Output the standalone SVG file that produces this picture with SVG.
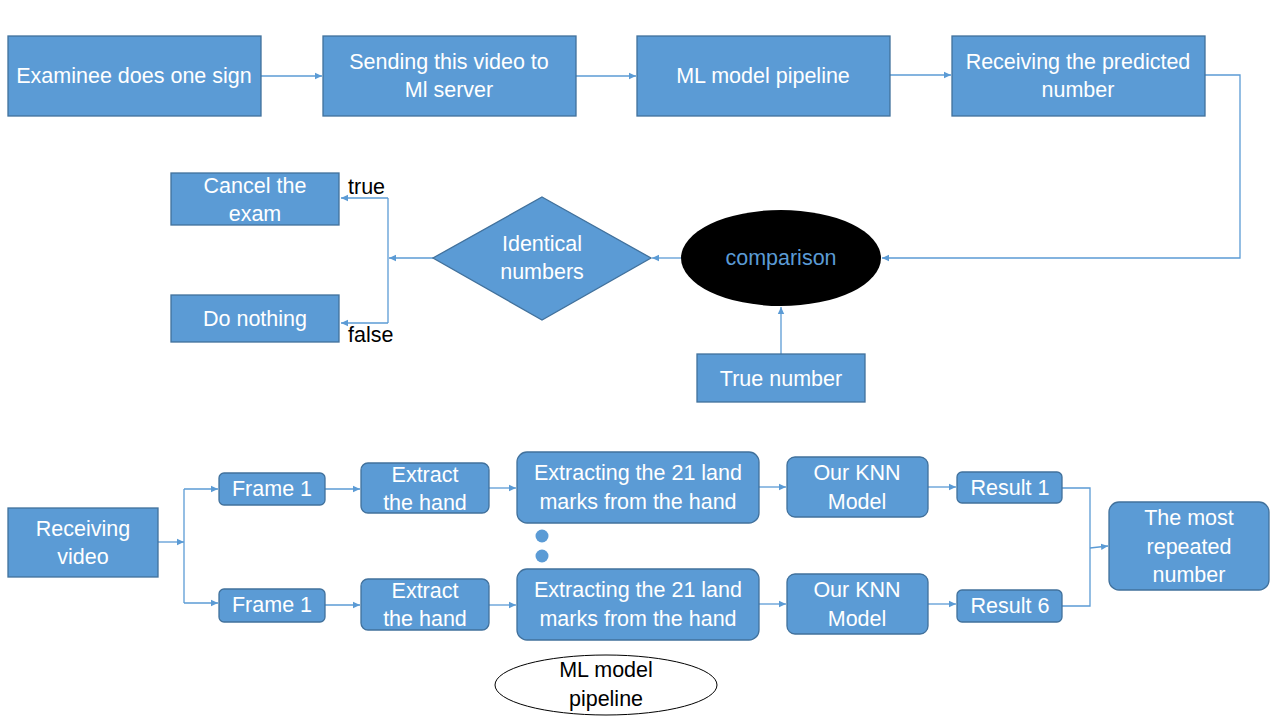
<svg xmlns="http://www.w3.org/2000/svg" width="1280" height="720" viewBox="0 0 1280 720">
<defs>
<marker id="ah" markerWidth="8" markerHeight="8" refX="7" refY="4" orient="auto" markerUnits="userSpaceOnUse"><path d="M0,0.8 L7,4 L0,7.2 Z" fill="#5b9bd5"/></marker>
<style>
.b{fill:#5b9bd5;stroke:#41719c;stroke-width:1.3}
.t{font-family:"Liberation Sans",Arial,sans-serif;font-size:21.5px;fill:#fff;text-anchor:middle;dominant-baseline:central}
.k{font-family:"Liberation Sans",Arial,sans-serif;font-size:21.5px;fill:#000;dominant-baseline:central}
.c{fill:none;stroke:#5b9bd5;stroke-width:1.3}
</style>
</defs>
<rect width="1280" height="720" fill="#fff"/>
<g id="connectors">
<path class="c" d="M261,76 H322" marker-end="url(#ah)"/>
<path class="c" d="M576,76 H636" marker-end="url(#ah)"/>
<path class="c" d="M890,75 H951" marker-end="url(#ah)"/>
<path class="c" d="M1205,75 H1240 V258 H882" marker-end="url(#ah)"/>
<path class="c" d="M681,258 H652" marker-end="url(#ah)"/>
<path class="c" d="M433,258 H389" marker-end="url(#ah)"/>
<path class="c" d="M388,198 V323"/>
<path class="c" d="M388,198 H341" marker-end="url(#ah)"/>
<path class="c" d="M388,323 H341" marker-end="url(#ah)"/>
<path class="c" d="M781,354 V307" marker-end="url(#ah)"/>
<path class="c" d="M158,542 H184" marker-end="url(#ah)"/>
<path class="c" d="M184,489 V603"/>
<path class="c" d="M184,489 H218" marker-end="url(#ah)"/>
<path class="c" d="M184,603 H218" marker-end="url(#ah)"/>
<path class="c" d="M325,489 H360" marker-end="url(#ah)"/>
<path class="c" d="M325,605 H360" marker-end="url(#ah)"/>
<path class="c" d="M489,488 H516" marker-end="url(#ah)"/>
<path class="c" d="M489,605 H516" marker-end="url(#ah)"/>
<path class="c" d="M759,487 H786" marker-end="url(#ah)"/>
<path class="c" d="M759,604 H786" marker-end="url(#ah)"/>
<path class="c" d="M928,487 H956" marker-end="url(#ah)"/>
<path class="c" d="M928,604 H956" marker-end="url(#ah)"/>
<path class="c" d="M1062,488 H1090 V606 H1062"/>
<path class="c" d="M1090,548 L1108,546" marker-end="url(#ah)"/>
</g>
<g id="examinee"><rect class="b" x="8" y="36" width="253" height="80"/><text class="t" x="134" y="76">Examinee does one sign</text></g>
<g id="sending"><rect class="b" x="323" y="36" width="253" height="80"/><text class="t" x="449" y="62">Sending this video to</text><text class="t" x="449" y="90">Ml server</text></g>
<g id="pipeline"><rect class="b" x="637" y="36" width="253" height="80"/><text class="t" x="763" y="76">ML model pipeline</text></g>
<g id="receiving"><rect class="b" x="952" y="36" width="253" height="80"/><text class="t" x="1078" y="62">Receiving the predicted</text><text class="t" x="1078" y="90">number</text></g>
<g id="comparison"><ellipse cx="781" cy="258" rx="100" ry="48" fill="#000"/><text class="t" x="781" y="258" style="fill:#5b9bd5">comparison</text></g>
<g id="identical"><polygon class="b" points="542,197 651,258 542,320 433,258"/><text class="t" x="542" y="244">Identical</text><text class="t" x="542" y="272">numbers</text></g>
<g id="cancel"><rect class="b" x="171" y="173" width="168" height="52"/><text class="t" x="255" y="186">Cancel the</text><text class="t" x="255" y="214">exam</text></g>
<g id="nothing"><rect class="b" x="171" y="295" width="168" height="47"/><text class="t" x="255" y="319">Do nothing</text></g>
<g id="labels"><text class="k" x="348" y="187">true</text><text class="k" x="348" y="335">false</text></g>
<g id="truenumber"><rect class="b" x="697" y="354" width="168" height="48"/><text class="t" x="781" y="379">True number</text></g>
<g id="recvideo"><rect class="b" x="8" y="508" width="150" height="69"/><text class="t" x="83" y="529">Receiving</text><text class="t" x="83" y="557">video</text></g>
<g id="frame1a"><rect class="b" x="219" y="473" width="106" height="32" rx="5"/><text class="t" x="272" y="489">Frame 1</text></g>
<g id="frame1b"><rect class="b" x="219" y="589" width="106" height="33" rx="5"/><text class="t" x="272" y="605">Frame 1</text></g>
<g id="extracta"><rect class="b" x="361" y="463" width="128" height="50" rx="7"/><text class="t" x="425" y="475">Extract</text><text class="t" x="425" y="503">the hand</text></g>
<g id="extractb"><rect class="b" x="361" y="579" width="128" height="51" rx="7"/><text class="t" x="425" y="591">Extract</text><text class="t" x="425" y="619">the hand</text></g>
<g id="landa"><rect class="b" x="517" y="452" width="242" height="71" rx="10"/><text class="t" x="638" y="473">Extracting the 21 land</text><text class="t" x="638" y="502">marks from the hand</text></g>
<g id="landb"><rect class="b" x="517" y="569" width="242" height="71" rx="10"/><text class="t" x="638" y="590">Extracting the 21 land</text><text class="t" x="638" y="619">marks from the hand</text></g>
<g id="dots"><circle cx="542" cy="536" r="6.5" fill="#5b9bd5"/><circle cx="542" cy="556" r="6.5" fill="#5b9bd5"/></g>
<g id="knna"><rect class="b" x="787" y="457" width="141" height="60" rx="8"/><text class="t" x="857" y="473">Our KNN</text><text class="t" x="857" y="502">Model</text></g>
<g id="knnb"><rect class="b" x="787" y="574" width="141" height="60" rx="8"/><text class="t" x="857" y="590">Our KNN</text><text class="t" x="857" y="619">Model</text></g>
<g id="result1"><rect class="b" x="957" y="472" width="105" height="31" rx="5"/><text class="t" x="1010" y="488">Result 1</text></g>
<g id="result6"><rect class="b" x="957" y="590" width="105" height="32" rx="5"/><text class="t" x="1010" y="606">Result 6</text></g>
<g id="most"><rect class="b" x="1109" y="502" width="160" height="88" rx="10"/><text class="t" x="1189" y="518">The most</text><text class="t" x="1189" y="547">repeated</text><text class="t" x="1189" y="575">number</text></g>
<g id="mlpipeline"><ellipse cx="606" cy="685" rx="111" ry="30" fill="#fff" stroke="#000" stroke-width="1"/><text class="k" x="606" y="670" text-anchor="middle">ML model</text><text class="k" x="606" y="699" text-anchor="middle">pipeline</text></g>
</svg>
